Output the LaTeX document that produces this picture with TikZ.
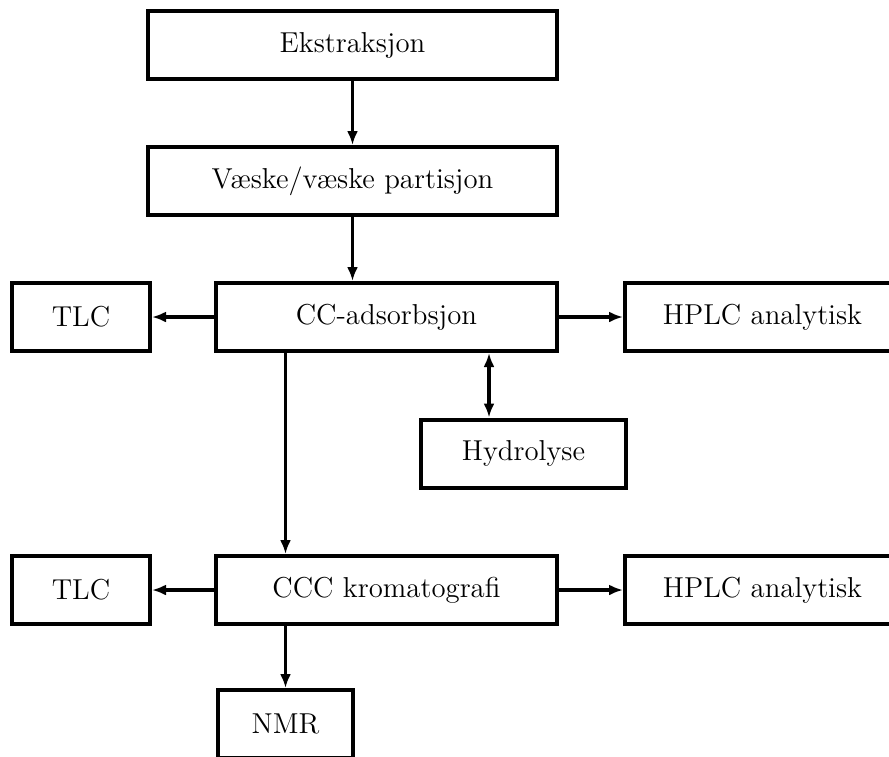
\documentclass[tikz,border=0pt]{standalone}
\usetikzlibrary{arrows.meta}
\begin{document}
\begin{tikzpicture}[x=0.5pt,y=-0.5pt,
  box/.style={draw, line width=2pt, rectangle, minimum height=34pt, inner sep=0pt, font=\Large},
  arr/.style={line width=1.6pt, -{Latex[length=7pt,width=5.5pt]}},
  darr/.style={line width=1.6pt, {Latex[length=7pt,width=5.5pt]}-{Latex[length=7pt,width=5.5pt]}}]
\clip (0,0) rectangle (889,756);
\node[box, minimum width=204.5pt] (ek) at (352.5,45) {Ekstraksjon};
\node[box, minimum width=204.5pt] (vv) at (352.5,181) {Væske/væske partisjon};
\node[box, minimum width=170.5pt] (cc) at (386.5,317) {CC-adsorbsjon};
\node[box, minimum width=69pt] (tlc1) at (81,317) {TLC};
\node[box, minimum width=137.5pt] (hplc1) at (762.5,317) {HPLC analytisk};
\node[box, minimum width=102.5pt] (hyd) at (523.5,453.5) {Hydrolyse};
\node[box, minimum width=170.5pt] (ccc) at (386.5,590) {CCC kromatografi};
\node[box, minimum width=69pt] (tlc2) at (81,590) {TLC};
\node[box, minimum width=137.5pt] (hplc2) at (762.5,590) {HPLC analytisk};
\node[box, minimum width=67.5pt] (nmr) at (285.5,724) {NMR};
\coordinate (hx) at (489,0);
\draw[arr] (ek.south) -- (vv.north);
\draw[arr] (vv.south) -- (cc.north -| vv.south);
\draw[arr] (cc.west) -- (tlc1.east);
\draw[arr] (cc.east) -- (hplc1.west);
\draw[darr] (cc.south -| hx) -- (hyd.north -| hx);
\draw[arr] (cc.south -| nmr.north) -- (ccc.north -| nmr.north);
\draw[arr] (ccc.west) -- (tlc2.east);
\draw[arr] (ccc.east) -- (hplc2.west);
\draw[arr] (ccc.south -| nmr.north) -- (nmr.north);
\end{tikzpicture}
\end{document}
